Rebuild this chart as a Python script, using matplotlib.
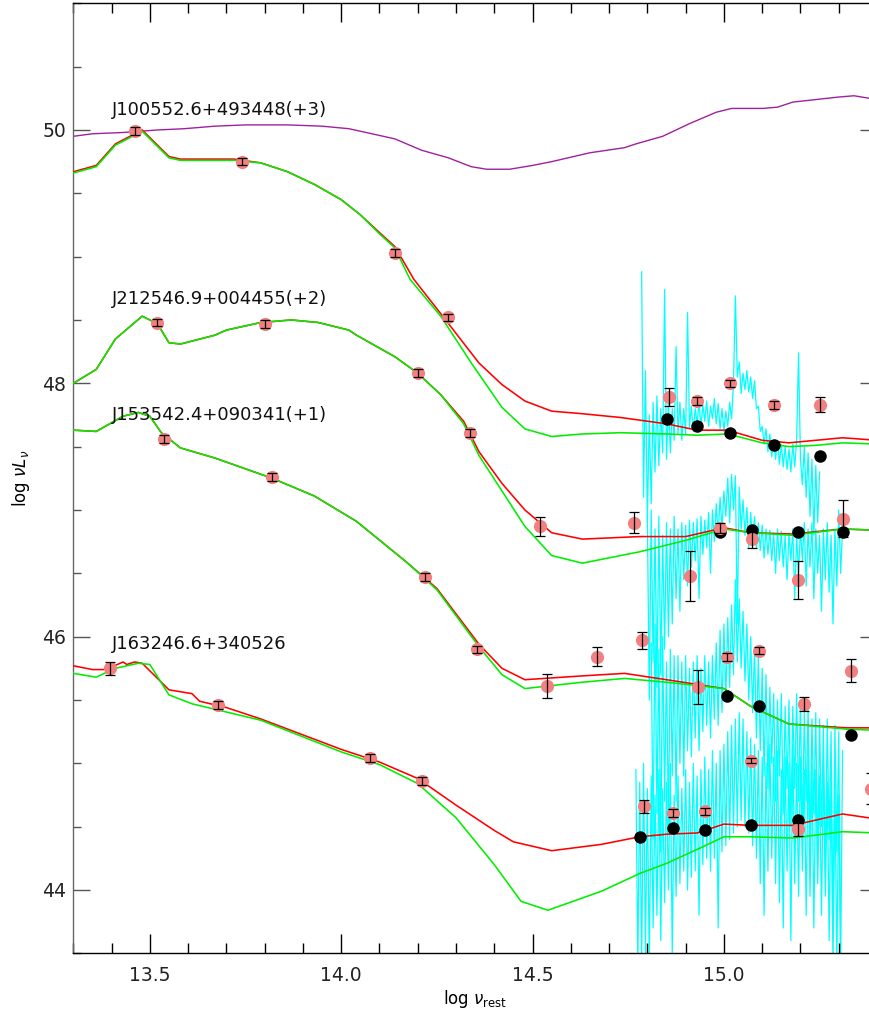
import matplotlib
matplotlib.use('Agg')
import matplotlib.pyplot as plt
import numpy as np
from matplotlib.ticker import MultipleLocator, FixedLocator, FixedFormatter

plt.rcParams['font.family'] = ['DejaVu Sans']
plt.rcParams['mathtext.fontset'] = 'dejavusans'

# ---------------- data ----------------
labels = ["J100552.6+493448(+3)", "J212546.9+004455(+2)",
          "J153542.4+090341(+1)", "J163246.6+340526"]
label_y = [50.12, 48.63, 47.71, 45.90]
label_x = 13.40

x_ticks = [13.5, 14.0, 14.5, 15.0]
x_ticklabels = ["13.5", "14.0", "14.5", "15.0"]
y_ticks = [44, 46, 48, 50]
y_ticklabels = ["44", "46", "48", "50"]

# purple template (top)
purple_x = [13.30, 13.35, 13.43, 13.52, 13.59, 13.67, 13.75, 13.86, 13.95, 14.02, 14.08, 14.14,
            14.21, 14.28, 14.34, 14.38, 14.44, 14.50, 14.55, 14.65, 14.74, 14.77, 14.84, 14.91,
            14.98, 15.02, 15.10, 15.14, 15.18, 15.24, 15.30, 15.34, 15.38, 15.40]
purple_y = [49.95, 49.97, 49.98, 50.00, 50.01, 50.03, 50.04, 50.04, 50.03, 50.01, 49.97, 49.93,
            49.84, 49.78, 49.71, 49.69, 49.69, 49.72, 49.75, 49.82, 49.86, 49.89, 49.95, 50.05,
            50.14, 50.17, 50.17, 50.18, 50.22, 50.24, 50.26, 50.27, 50.25, 50.23]

# source 1 models
s1_green_x = [13.30, 13.36, 13.41, 13.48, 13.55, 13.58, 13.72, 13.79, 13.86, 13.93, 14.00, 14.05,
              14.10, 14.14, 14.18, 14.26, 14.34, 14.42, 14.48, 14.55, 14.63, 14.73, 14.85, 14.93,
              15.01, 15.10, 15.17, 15.24, 15.31, 15.40]
s1_green_y = [49.66, 49.71, 49.88, 49.99, 49.78, 49.76, 49.76, 49.74, 49.67, 49.57, 49.45, 49.33,
              49.18, 49.07, 48.82, 48.53, 48.16, 47.81, 47.64, 47.58, 47.60, 47.61, 47.60, 47.59,
              47.60, 47.53, 47.50, 47.51, 47.53, 47.52]
s1_red_x = [13.30, 13.36, 13.41, 13.48, 13.55, 13.58, 13.72, 13.79, 13.86, 13.93, 14.00, 14.05,
            14.10, 14.14, 14.19, 14.26, 14.36, 14.42, 14.48, 14.55, 14.63, 14.73, 14.85, 14.93,
            15.01, 15.10, 15.17, 15.24, 15.31, 15.40]
s1_red_y = [49.67, 49.72, 49.89, 50.00, 49.79, 49.77, 49.77, 49.74, 49.67, 49.57, 49.45, 49.33,
            49.19, 49.08, 48.82, 48.55, 48.16, 47.99, 47.86, 47.78, 47.76, 47.73, 47.68, 47.63,
            47.63, 47.55, 47.53, 47.55, 47.57, 47.55]

# source 2 models
s2_green_x = [13.30, 13.36, 13.41, 13.48, 13.52, 13.55, 13.58, 13.67, 13.70, 13.79, 13.87, 13.94,
              14.02, 14.04, 14.14, 14.20, 14.26, 14.32, 14.36, 14.48, 14.55, 14.63, 14.78, 14.90,
              15.00, 15.07, 15.18, 15.31, 15.40]
s2_green_y = [48.00, 48.11, 48.35, 48.53, 48.47, 48.32, 48.31, 48.38, 48.42, 48.48, 48.50, 48.48,
              48.42, 48.38, 48.21, 48.08, 47.91, 47.68, 47.43, 46.87, 46.64, 46.58, 46.67, 46.76,
              46.85, 46.82, 46.80, 46.85, 46.84]
s2_red_x = [13.30, 13.36, 13.41, 13.48, 13.52, 13.55, 13.58, 13.67, 13.70, 13.79, 13.87, 13.94,
            14.02, 14.04, 14.14, 14.20, 14.26, 14.32, 14.36, 14.42, 14.48, 14.55, 14.63, 14.78,
            14.90, 15.00, 15.07, 15.18, 15.31, 15.40]
s2_red_y = [48.00, 48.11, 48.35, 48.53, 48.47, 48.32, 48.31, 48.38, 48.42, 48.48, 48.50, 48.48,
            48.42, 48.38, 48.21, 48.08, 47.91, 47.70, 47.46, 47.21, 47.00, 46.82, 46.77, 46.79,
            46.79, 46.86, 46.82, 46.81, 46.85, 46.84]

# source 3 models
s3_green_x = [13.30, 13.36, 13.43, 13.47, 13.50, 13.53, 13.58, 13.67, 13.82, 13.93, 14.04, 14.17,
              14.25, 14.36, 14.42, 14.48, 14.63, 14.74, 14.85, 15.00, 15.07, 15.17, 15.32, 15.40]
s3_green_y = [47.63, 47.62, 47.74, 47.77, 47.74, 47.61, 47.49, 47.41, 47.25, 47.11, 46.91, 46.59,
              46.37, 45.92, 45.70, 45.59, 45.64, 45.67, 45.64, 45.59, 45.45, 45.31, 45.27, 45.26]
s3_red_x = s3_green_x
s3_red_y = [47.63, 47.62, 47.74, 47.77, 47.74, 47.61, 47.49, 47.41, 47.25, 47.11, 46.91, 46.59,
            46.38, 45.94, 45.75, 45.66, 45.69, 45.71, 45.66, 45.59, 45.45, 45.31, 45.28, 45.28]

# source 4 models
s4_red_x = [13.30, 13.35, 13.38, 13.40, 13.43, 13.44, 13.46, 13.48, 13.55, 13.61, 13.63, 13.70,
            13.79, 14.00, 14.10, 14.20, 14.30, 14.40, 14.45, 14.55, 14.68, 14.78, 14.85, 14.93,
            15.00, 15.07, 15.18, 15.31, 15.40]
s4_red_y = [45.77, 45.74, 45.74, 45.76, 45.80, 45.78, 45.80, 45.79, 45.58, 45.55, 45.49, 45.44,
            45.35, 45.11, 45.01, 44.88, 44.67, 44.47, 44.38, 44.31, 44.36, 44.42, 44.44, 44.45,
            44.52, 44.51, 44.51, 44.60, 44.56]
s4_green_x = [13.30, 13.36, 13.41, 13.47, 13.50, 13.55, 13.61, 13.79, 14.00, 14.10, 14.20, 14.30,
              14.40, 14.47, 14.54, 14.68, 14.78, 14.85, 14.93, 15.00, 15.07, 15.18, 15.31, 15.40]
s4_green_y = [45.71, 45.68, 45.75, 45.79, 45.78, 45.54, 45.47, 45.34, 45.09, 44.99, 44.84, 44.57,
              44.20, 43.91, 43.84, 43.99, 44.13, 44.21, 44.32, 44.42, 44.42, 44.41, 44.46, 44.45]

# photometry (salmon) with errors
s1_px = [13.46, 13.74, 14.14, 14.28, 14.856, 14.93, 15.016, 15.13, 15.25]
s1_py = [49.99, 49.75, 49.03, 48.52, 47.89, 47.86, 48.00, 47.83, 47.83]
s1_pe = [0.03, 0.03, 0.03, 0.03, 0.07, 0.03, 0.03, 0.03, 0.06]
s2_px = [13.52, 13.80, 14.20, 14.336, 14.52, 14.765, 14.912, 14.989, 15.073, 15.193, 15.312]
s2_py = [48.48, 48.47, 48.08, 47.61, 46.87, 46.90, 46.48, 46.86, 46.77, 46.45, 46.93]
s2_pe = [0.03, 0.03, 0.03, 0.03, 0.074, 0.085, 0.20, 0.04, 0.07, 0.15, 0.145]
s3_px = [13.537, 13.82, 14.218, 14.355, 14.539, 14.669, 14.785, 14.931, 15.008, 15.092, 15.21, 15.332]
s3_py = [47.56, 47.26, 46.47, 45.90, 45.61, 45.84, 45.97, 45.60, 45.84, 45.89, 45.47, 45.73]
s3_pe = [0.03, 0.03, 0.03, 0.03, 0.095, 0.075, 0.066, 0.134, 0.03, 0.03, 0.055, 0.09]
s4_px = [13.396, 13.678, 14.076, 14.212, 14.79, 14.866, 14.951, 15.071, 15.193, 15.385]
s4_py = [45.75, 45.46, 45.04, 44.86, 44.66, 44.61, 44.62, 45.02, 44.48, 44.80]
s4_pe = [0.05, 0.03, 0.03, 0.03, 0.05, 0.03, 0.03, 0.02, 0.05, 0.125]

# model synthetic photometry (black)
s1_bx = [14.85, 14.93, 15.016, 15.13, 15.25]
s1_by = [47.72, 47.66, 47.61, 47.51, 47.43]
s2_bx = [14.989, 15.073, 15.193, 15.312]
s2_by = [46.83, 46.84, 46.83, 46.83]
s3_bx = [15.008, 15.092, 15.332]
s3_by = [45.53, 45.45, 45.22]
s4_bx = [14.78, 14.866, 14.951, 15.071, 15.193]
s4_by = [44.42, 44.49, 44.47, 44.51, 44.55]

# spectra (cyan), uniformly sampled in log nu between the given limits
spec1_range = (14.785, 15.250)
spec1 = [48.88, 47.10, 48.10, 46.90, 47.75, 47.05, 47.85, 47.30, 47.90, 47.35,
         47.80, 47.45, 48.74, 47.40, 47.85, 47.45, 47.80, 47.55, 48.29, 47.60,
         47.85, 47.55, 47.80, 47.60, 48.56, 47.65, 47.82, 47.62, 47.80, 47.68,
         47.85, 47.66, 47.83, 47.70, 47.86, 47.66, 47.82, 47.72, 47.88, 47.68,
         47.84, 47.64, 47.80, 47.62, 47.78, 47.66, 47.85, 47.72, 48.00, 48.69,
         48.05, 48.17, 47.92, 48.08, 47.95, 48.10, 47.93, 48.05, 47.88, 48.02,
         47.80, 47.82, 47.62, 47.66, 47.52, 47.64, 47.46, 47.60, 47.42, 47.55,
         47.40, 47.55, 47.36, 47.52, 47.34, 47.50, 47.32, 47.48, 47.30, 47.52,
         47.34, 47.55, 48.24, 47.40, 47.20, 47.50, 47.10, 47.45, 46.95, 47.40,
         46.80, 47.35, 46.90, 47.30]
spec2_range = (14.800, 15.310)
spec2 = [46.95, 45.50, 47.00, 45.80, 46.85, 45.60, 46.95, 45.70, 46.80, 45.90,
         46.90, 46.00, 46.85, 46.10, 46.95, 46.30, 46.85, 46.20, 46.90, 46.45,
         46.88, 46.40, 46.92, 46.55, 46.90, 46.60, 46.93, 46.30, 46.95, 46.65,
         46.92, 46.70, 46.98, 46.50, 47.00, 46.75, 47.05, 46.80, 47.10, 46.85,
         47.15, 46.95, 47.25, 46.90, 47.28, 47.00, 47.27, 46.10, 47.18, 46.85,
         47.08, 46.80, 47.02, 46.70, 46.98, 46.75, 46.95, 46.70, 46.90, 46.68,
         46.88, 46.62, 46.85, 46.65, 46.84, 46.60, 46.82, 46.50, 46.85, 46.60,
         46.83, 46.55, 46.80, 46.45, 46.82, 46.60, 46.85, 46.30, 46.80, 46.50,
         46.85, 46.60, 46.90, 46.40, 46.85, 46.55, 46.90, 46.30, 46.85, 46.50,
         46.80, 46.20, 46.85, 46.45, 46.90, 46.35, 46.80, 46.10, 46.85, 46.40,
         47.00, 46.50, 46.85]
spec3_range = (14.810, 15.310)
spec3 = [45.95, 44.40, 46.10, 44.60, 45.90, 44.30, 46.00, 44.70, 45.80, 44.50,
         45.90, 44.90, 45.85, 44.70, 45.85, 45.00, 45.80, 44.90, 45.85, 45.10,
         45.75, 45.05, 45.80, 45.20, 45.85, 45.10, 45.75, 45.25, 45.85, 45.30,
         45.80, 45.20, 45.85, 45.35, 45.95, 45.30, 46.05, 45.40, 46.10, 45.50,
         46.15, 45.60, 46.25, 45.70, 46.45, 45.80, 46.30, 45.75, 46.20, 45.65,
         46.10, 45.50, 46.00, 45.40, 45.90, 45.20, 45.85, 45.10, 45.75, 44.90,
         45.70, 44.80, 45.60, 45.00, 45.55, 44.70, 45.50, 44.90, 45.55, 44.60,
         45.45, 44.80, 45.50, 44.50, 45.45, 44.80, 45.55, 44.70, 45.50, 44.40,
         45.40, 44.70, 45.45, 44.30, 45.35, 44.60, 45.40, 44.20, 45.35, 44.50,
         45.30, 44.10, 45.35, 44.40, 45.25, 43.70, 45.30, 44.30, 45.25, 43.40,
         45.10]
spec4_range = (14.770, 15.305)
spec4 = [44.95, 43.40, 44.85, 43.40, 45.00, 43.50, 44.80, 43.40, 44.90, 43.70,
         44.75, 43.80, 44.95, 43.60, 44.80, 43.90, 44.85, 44.00, 45.00, 43.50,
         44.75, 43.95, 44.90, 44.05, 44.80, 44.15, 44.95, 44.00, 44.85, 44.10,
         45.00, 44.15, 44.90, 43.80, 44.95, 44.20, 45.05, 44.25, 44.95, 44.15,
         45.10, 44.25, 45.00, 43.70, 45.10, 44.30, 45.15, 44.35, 45.25, 44.40,
         45.30, 44.45, 45.35, 44.50, 45.40, 44.55, 45.35, 44.50, 45.25, 44.45,
         45.20, 44.35, 45.15, 44.25, 45.10, 44.05, 45.05, 43.80, 45.00, 44.15,
         45.15, 44.25, 45.05, 44.05, 45.10, 43.90, 44.95, 43.70, 45.05, 44.15,
         45.00, 43.60, 45.15, 44.05, 45.00, 43.95, 45.05, 44.15, 44.95, 43.80,
         45.10, 43.95, 45.00, 43.70, 44.95, 44.05, 44.90, 43.80, 45.00, 43.95,
         44.85, 43.60, 44.90, 43.40, 44.85, 43.40, 44.75, 43.40]

# ---------------- figure ----------------
W, H = 870, 1014
fig = plt.figure(figsize=(W / 100, H / 100), dpi=100)
ax_l, ax_r, ax_t, ax_b = 73.3, 877.0, 3.3, 953.3
ax = fig.add_axes([ax_l / W, (H - ax_b) / H, (ax_r - ax_l) / W, (ax_b - ax_t) / H])
ax.set_xlim(13.3, 15.4)
ax.set_ylim(43.5, 51.0)

CYAN = '#00FFFF'
RED = '#FF0000'
GREEN = '#00EE00'
PURPLE = '#A020A0'
SALMON = '#F28080'

for rng, sp in [(spec1_range, spec1), (spec2_range, spec2),
                (spec3_range, spec3), (spec4_range, spec4)]:
    xs = np.linspace(rng[0], rng[1], len(sp))
    ax.plot(xs, sp, color=CYAN, lw=0.9, zorder=1)

ax.plot(purple_x, purple_y, color=PURPLE, lw=1.0, zorder=2)

for gx, gy, rx, ry in [(s1_green_x, s1_green_y, s1_red_x, s1_red_y),
                       (s2_green_x, s2_green_y, s2_red_x, s2_red_y),
                       (s3_green_x, s3_green_y, s3_red_x, s3_red_y),
                       (s4_green_x, s4_green_y, s4_red_x, s4_red_y)]:
    ax.plot(rx, ry, color=RED, lw=1.15, zorder=3)
    ax.plot(gx, gy, color=GREEN, lw=1.15, zorder=3)

for bx, by in [(s1_bx, s1_by), (s2_bx, s2_by), (s3_bx, s3_by), (s4_bx, s4_by)]:
    ax.plot(bx, by, 'o', color='black', ms=9, mew=0, zorder=4)

for px, py, pe in [(s1_px, s1_py, s1_pe), (s2_px, s2_py, s2_pe),
                   (s3_px, s3_py, s3_pe), (s4_px, s4_py, s4_pe)]:
    ax.plot(px, py, 'o', color=SALMON, ms=9.5, mew=0, zorder=5)
    ax.errorbar(px, py, yerr=pe, fmt='none', ecolor='black', elinewidth=0.9,
                capsize=3.6, capthick=0.9, zorder=6)

for lab, ly in zip(labels, label_y):
    ax.text(label_x, ly, lab, fontsize=13, color='#111111', va='baseline', ha='left', zorder=7)

# ticks
ax.xaxis.set_major_locator(FixedLocator(x_ticks))
ax.xaxis.set_major_formatter(FixedFormatter(x_ticklabels))
ax.xaxis.set_minor_locator(MultipleLocator(0.1))
ax.yaxis.set_major_locator(FixedLocator(y_ticks))
ax.yaxis.set_major_formatter(FixedFormatter(y_ticklabels))
ax.yaxis.set_minor_locator(MultipleLocator(0.5))
ax.tick_params(axis='x', which='both', direction='in', top=True, bottom=True,
               labelsize=13.5, pad=9, color='black', labelcolor='#222222')
ax.tick_params(axis='x', which='major', length=13.5, width=1.0)
ax.tick_params(axis='x', which='minor', length=7, width=1.0)
ax.tick_params(axis='y', which='both', direction='in', left=True, right=True,
               labelsize=13.5, pad=5, color='#555555', labelcolor='#222222')
ax.tick_params(axis='y', which='major', length=12, width=1.0)
ax.tick_params(axis='y', which='minor', length=6, width=1.0)
for s in ['top', 'bottom', 'right']:
    ax.spines[s].set_color('black')
ax.spines['left'].set_color('#666666')
for s in ax.spines.values():
    s.set_linewidth(1.0)

ax.set_xlabel(r'log $\nu_{\rm rest}$', fontsize=12)
ax.xaxis.set_label_coords(0.5, -0.036)
ax.set_ylabel(r'log $\nu L_\nu$', fontsize=12)
ax.yaxis.set_label_coords(-0.052, 0.5)

fig.savefig('out.png', dpi=100)
